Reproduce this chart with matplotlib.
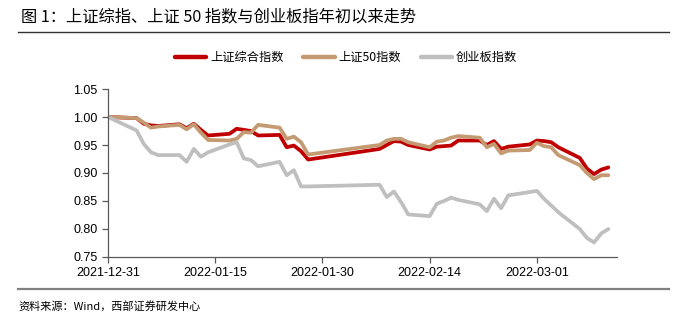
import matplotlib
matplotlib.use("Agg")
import matplotlib.pyplot as plt
import pandas as pd

plt.rcParams['font.family'] = ['Liberation Sans', 'Noto Sans CJK SC', 'DejaVu Sans']

dates = ["2021-12-31",
         "2022-01-04", "2022-01-05", "2022-01-06", "2022-01-07", "2022-01-10",
         "2022-01-11", "2022-01-12", "2022-01-13", "2022-01-14", "2022-01-17",
         "2022-01-18", "2022-01-19", "2022-01-20", "2022-01-21", "2022-01-24",
         "2022-01-25", "2022-01-26", "2022-01-27", "2022-01-28",
         "2022-02-07", "2022-02-08", "2022-02-09", "2022-02-10", "2022-02-11",
         "2022-02-14", "2022-02-15", "2022-02-16", "2022-02-17", "2022-02-18",
         "2022-02-21", "2022-02-22", "2022-02-23", "2022-02-24", "2022-02-25",
         "2022-02-28", "2022-03-01", "2022-03-02", "2022-03-03", "2022-03-04",
         "2022-03-07", "2022-03-08", "2022-03-09", "2022-03-10", "2022-03-11"]

sse_composite = [1.000,
                 0.998, 0.988, 0.985, 0.984, 0.987,
                 0.980, 0.988, 0.977, 0.967, 0.970,
                 0.979, 0.977, 0.975, 0.967, 0.968,
                 0.946, 0.949, 0.939, 0.924,
                 0.943, 0.950, 0.957, 0.956, 0.950,
                 0.942, 0.947, 0.948, 0.949, 0.958,
                 0.958, 0.950, 0.957, 0.943, 0.947,
                 0.951, 0.958, 0.957, 0.955, 0.946,
                 0.927, 0.908, 0.898, 0.906, 0.910]

sse50 = [1.000,
         0.998, 0.990, 0.981, 0.983, 0.986,
         0.978, 0.987, 0.972, 0.959, 0.958,
         0.961, 0.973, 0.972, 0.986, 0.981,
         0.961, 0.965, 0.955, 0.933,
         0.950, 0.958, 0.961, 0.961, 0.955,
         0.946, 0.956, 0.958, 0.963, 0.966,
         0.963, 0.946, 0.952, 0.935, 0.940,
         0.941, 0.954, 0.948, 0.946, 0.932,
         0.914, 0.900, 0.889, 0.896, 0.896]

chinext = [1.000,
           0.976, 0.952, 0.937, 0.932, 0.932,
           0.920, 0.943, 0.929, 0.937, 0.951,
           0.955, 0.926, 0.923, 0.912, 0.920,
           0.896, 0.905, 0.876, 0.876,
           0.879, 0.857, 0.867, 0.848, 0.826,
           0.823, 0.845, 0.850, 0.856, 0.852,
           0.844, 0.832, 0.854, 0.837, 0.860,
           0.866, 0.868, 0.854, 0.842, 0.830,
           0.800, 0.784, 0.776, 0.792, 0.800]

series_names = ["上证综合指数", "上证50指数", "创业板指数"]
colors = ["#C00000", "#C49A72", "#BFBFBF"]
yticks = [0.75, 0.80, 0.85, 0.90, 0.95, 1.00, 1.05]
xtick_labels = ["2021-12-31", "2022-01-15", "2022-01-30", "2022-02-14", "2022-03-01"]

x = pd.to_datetime(dates)

fig = plt.figure(figsize=(6.85, 3.24), dpi=100)
ax = fig.add_axes([0.1577, 0.2068, 0.9007 - 0.1577, 0.7253 - 0.2068])

for vals, name, c in zip([sse_composite, sse50, chinext], series_names, colors):
    ax.plot(x, vals, color=c, lw=2.7, label=name, solid_joinstyle='round',
            solid_capstyle='round')

ax.set_ylim(0.75, 1.05)
ax.set_yticks(yticks)
ax.set_yticklabels([f"{v:.2f}" for v in yticks])
ax.set_xlim(pd.Timestamp("2021-12-31"), pd.Timestamp("2022-03-12 05:00"))
ax.set_xticks(pd.to_datetime(xtick_labels))
ax.set_xticklabels(xtick_labels)

for s in ["top", "right"]:
    ax.spines[s].set_visible(False)
for s in ["left", "bottom"]:
    ax.spines[s].set_color("#595959")
    ax.spines[s].set_linewidth(0.9)
ax.tick_params(axis="both", labelsize=9, color="#595959", length=4, width=0.9,
               direction="out", labelcolor="#000000")
ax.tick_params(axis="x", pad=3)

leg = fig.legend(loc="center", bbox_to_anchor=(0.505, 0.822), ncol=3, frameon=False,
                 handlelength=2.6, handletextpad=0.3, columnspacing=1.6,
                 prop={'family': ['Noto Sans CJK SC', 'DejaVu Sans'], 'size': 8.8})
for line in leg.get_lines():
    line.set_linewidth(3.2)

fig.text(0.030, 0.948, "图 1：上证综指、上证 50 指数与创业板指年初以来走势",
         fontsize=11.7, family=['Noto Sans CJK SC', 'DejaVu Sans'], va="center", ha="left")
fig.add_artist(plt.Line2D([0.026, 0.976], [0.900, 0.900], color="#333333", lw=1.0,
                          transform=fig.transFigure))
fig.add_artist(plt.Line2D([0.026, 0.976], [0.108, 0.108], color="#808080", lw=1.6,
                          transform=fig.transFigure))
fig.text(0.027, 0.056, "资料来源：Wind，西部证券研发中心",
         fontsize=8, family=['Noto Sans CJK SC', 'DejaVu Sans'], va="center", ha="left")

fig.savefig("out.png", dpi=100)
